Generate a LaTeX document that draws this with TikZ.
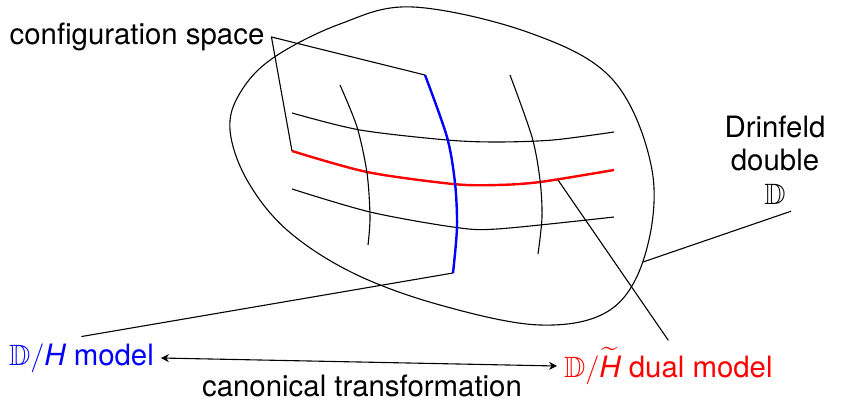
\documentclass[tikz,border=0pt]{standalone}
\usepackage{amsmath,amssymb}
\usepackage{fontspec}
\setmainfont{TeX Gyre Heros}
\usetikzlibrary{arrows.meta,positioning}

\begin{document}
\begin{tikzpicture}[
  x=0.5pt, y=-0.5pt,
  lbl/.style={font=\fontsize{14.7}{16.7}\selectfont, align=center},
  ptr/.style={line width=0.55pt},
  gline/.style={line width=0.55pt},
  cline/.style={line width=1.2pt},
  darr/.style={{Stealth[length=4pt,width=4pt]}-{Stealth[length=4pt,width=4pt]}, line width=0.55pt},
]
\useasboundingbox (0,0) rectangle (845,401);

% Drinfeld double (the blob)
\draw[ptr] plot[smooth cycle, tension=0.6] coordinates {
  (413,7) (530,33) (613,80) (652,170) (645,255) (610,310) (540,325)
  (440,305) (353,273) (287,230) (247,180) (230,130) (240,93) (273,58) (340,24)};
\coordinate (dd) at (643,262);

% grid: horizontal lines
\draw[gline] plot[smooth] coordinates {(292,113) (360,130) (447,140) (497,142) (553,140) (614,132)};
\draw[cline, red] plot[smooth] coordinates {(292,151) (367,172) (453,184) (497,185) (540,182) (614,170)};
\draw[gline] plot[smooth] coordinates {(292,189) (370,212) (453,227) (497,229) (614,217)};
\coordinate (r0) at (292,151);
\coordinate (r1) at (558,180);

% grid: vertical lines
\draw[gline] plot[smooth] coordinates {(340,85) (357,127) (367,173) (370,217) (368,245)};
\draw[cline, blue] plot[smooth] coordinates {(425,75) (447,137) (455,183) (457,227) (453,273)};
\draw[gline] plot[smooth] coordinates {(510,75) (532,137) (540,180) (542,217) (538,254)};
\coordinate (b0) at (425,75);
\coordinate (b1) at (453,273);

% Labels
\node[lbl] (cfg) at (137,37) {configuration space};
\node[lbl] (drin) at (775,160) {Drinfeld\\double\\$\mathbb{D}$};
\node[lbl, blue, anchor=west] (model) at (2,358) {$\mathbb{D}/\textit{H}$ model};
\node[lbl, red, anchor=west] (dual) at (557,366) {$\mathbb{D}/\widetilde{\textit{H}}$ dual model};
\node[lbl, anchor=base, inner sep=1pt] (canon) at (362,396) {canonical transformation};

% Pointers
\draw[ptr] (b0) -- (cfg.east) -- (r0);
\draw[ptr] (model.north) -- (b1);
\draw[ptr] (r1) -- (dual.north);
\draw[ptr] ([xshift=8pt]drin.south) -- (dd);
\draw[darr] (model.east) -- (dual.west);

\end{tikzpicture}
\end{document}
